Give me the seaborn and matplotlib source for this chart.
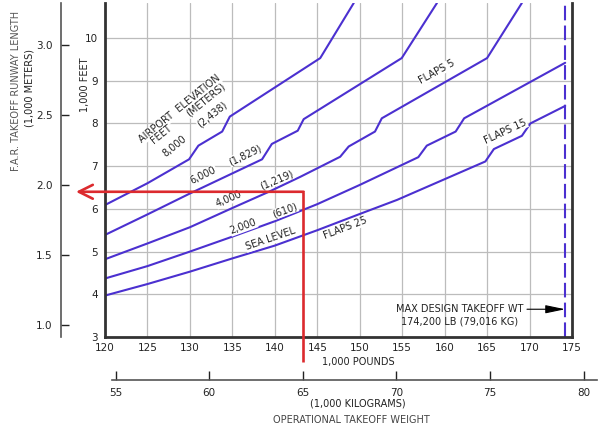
import numpy as np
import pandas as pd
import matplotlib
matplotlib.use("Agg")
import matplotlib.pyplot as plt
import seaborn as sns

# ---------------- data (weight in 1,000 lb, runway length in 1,000 ft) ----------------
sl_weight = [120, 125, 130, 135, 140, 145, 150, 154.4, 164.8, 165.8, 169.1, 170.1, 174.2]
sl_length = [3.97, 4.24, 4.53, 4.84, 5.14, 5.50, 5.88, 6.21, 7.11, 7.40, 7.71, 8.00, 8.41]
e2000_weight = [120, 125, 130, 135, 140, 145, 150, 156.9, 157.9, 161.3, 162.3, 174.2]
e2000_length = [4.37, 4.66, 5.00, 5.35, 5.71, 6.11, 6.56, 7.21, 7.48, 7.81, 8.12, 9.42]
e4000_weight = [120, 125, 130, 135, 139.3, 143, 147.7, 148.7, 151.8, 152.6, 165.0, 169.1]
e4000_length = [4.82, 5.19, 5.57, 6.02, 6.40, 6.75, 7.22, 7.46, 7.81, 8.12, 9.53, 10.82]
e6000_weight = [120, 125, 130, 138.5, 139.65, 142.7, 143.4, 154.95, 159.1]
e6000_length = [5.39, 5.87, 6.36, 7.16, 7.52, 7.83, 8.10, 9.53, 10.82]
e8000_weight = [120, 125, 129.9, 131.0, 133.8, 134.7, 145.35, 149.3]
e8000_length = [6.09, 6.60, 7.16, 7.48, 7.81, 8.16, 9.53, 10.82]

weight_ticks = [120, 125, 130, 135, 140, 145, 150, 155, 160, 165, 170, 175]
length_ticks = [3, 4, 5, 6, 7, 8, 9, 10]
meter_ticks = [1.0, 1.5, 2.0, 2.5, 3.0]
meter_labels = ["1.0", "1.5", "2.0", "2.5", "3.0"]
kg_ticks = [55, 60, 65, 70, 75, 80]

max_design_weight = 174.2
example_weight = 143.3     # 65,000 kg
example_length = 6.40      # ~1.95 km

FT_TO_M = 0.3048
LB_TO_KG = 0.45359

# ---------------- style ----------------
sns.set_theme(style="white")
plt.rcParams["font.family"] = ["DejaVu Sans"]
CURVE = "#4b30d0"
RED = "#dc2a2e"
TXT = "#222222"

fig = plt.figure(figsize=(6.0, 4.33), dpi=100)
ax = fig.add_axes([0.175, 0.2217, 0.7783, 0.7714])

frames = []
for name, w, l in [("SL", sl_weight, sl_length), ("2000", e2000_weight, e2000_length),
                   ("4000", e4000_weight, e4000_length), ("6000", e6000_weight, e6000_length),
                   ("8000", e8000_weight, e8000_length)]:
    frames.append(pd.DataFrame({"weight": w, "length": l, "curve": name}))
df = pd.concat(frames, ignore_index=True)

sns.lineplot(data=df, x="weight", y="length", units="curve", estimator=None, sort=False,
             color=CURVE, lw=1.5, ax=ax, legend=False, zorder=3)

ax.set_xlim(120, 175)
ax.set_ylim(3, 10.82)
ax.set_xticks(weight_ticks)
ax.set_yticks(length_ticks)
ax.set_xlabel("")
ax.set_ylabel("")
ax.grid(True, color="#bcbcbc", lw=0.9, zorder=0)
ax.tick_params(axis="both", length=0, labelsize=7.5, colors=TXT)
ax.tick_params(axis="x", pad=4)
ax.tick_params(axis="y", pad=5)
for s in ["left", "bottom", "right"]:
    ax.spines[s].set_visible(True)
    ax.spines[s].set_color("#333333")
    ax.spines[s].set_linewidth(2.0)
    ax.spines[s].set_zorder(5)
ax.spines["top"].set_visible(False)

# max design takeoff weight line
ax.axvline(max_design_weight, color=CURVE, lw=1.5, linestyle=(0, (7, 2.5)), zorder=4)
ax.annotate("", xy=(max_design_weight, 3.65), xytext=(169.7, 3.65),
            arrowprops=dict(arrowstyle="-|>,head_length=1.2,head_width=0.25",
                            color="black", lw=0.8, mutation_scale=10, shrinkA=0, shrinkB=0))
ax.text(161.75, 3.65, "MAX DESIGN TAKEOFF WT", ha="center", va="center", fontsize=7, color=TXT)
ax.text(161.75, 3.36, "174,200 LB (79,016 KG)", ha="center", va="center", fontsize=7, color=TXT)

# curve labels
lab = dict(fontsize=7, color=TXT, ha="center", va="center", rotation_mode="anchor", zorder=6)
bb = dict(fc="white", ec="none", pad=0.3)
for txt, x, y, r in [("AIRPORT  ELEVATION", 128.84, 8.34, 39),
                     ("FEET", 126.6, 7.75, 39),
                     ("(METERS)", 131.9, 8.55, 39),
                     ("8,000", 128.15, 7.46, 39),
                     ("(2,438)", 132.6, 8.22, 39),
                     ("6,000", 131.6, 6.79, 26),
                     ("(1,829)", 136.5, 7.26, 26),
                     ("4,000", 134.6, 6.23, 23),
                     ("(1,219)", 140.25, 6.68, 23),
                     ("2,000", 136.3, 5.58, 20),
                     ("(610)", 141.2, 5.96, 20),
                     ("SEA LEVEL", 139.5, 5.29, 19),
                     ("FLAPS 25", 148.3, 5.55, 21),
                     ("FLAPS 15", 167.2, 7.81, 25),
                     ("FLAPS 5", 159.1, 9.21, 29)]:
    ax.text(x, y, txt, rotation=r, bbox=bb, **lab)

# red example reading
ax.plot([example_weight, example_weight], [example_length, 2.41], color=RED, lw=1.9,
        clip_on=False, zorder=7, solid_capstyle="butt")
ax.annotate("", xy=(116.58, example_length), xytext=(example_weight + 0.1, example_length),
            annotation_clip=False,
            arrowprops=dict(arrowstyle="->,head_length=1.0,head_width=0.5", color=RED, lw=1.9,
                            mutation_scale=10, shrinkA=0, shrinkB=0), zorder=7)

# meters axis
sec = ax.secondary_yaxis(-0.0942, functions=(lambda f: f * FT_TO_M, lambda m: m / FT_TO_M))
sec.set_yticks(meter_ticks)
sec.set_yticklabels(meter_labels)
sec.tick_params(axis="y", left=True, direction="in", length=6, width=1.0, pad=6,
                labelsize=7.5, colors=TXT)
for s in sec.spines.values():
    s.set_color("#555555")
    s.set_linewidth(1.2)

# kilogram axis
pos = ax.get_position()
lo_klb, hi_klb = 120.8, 177.9
x0 = pos.x0 + (lo_klb - 120) / 55 * pos.width
x1 = pos.x0 + (hi_klb - 120) / 55 * pos.width
yk = pos.y0 - 0.1287 * pos.height
axk = fig.add_axes([x0, yk, x1 - x0, 0.0001])
axk.patch.set_visible(False)
axk.set_xlim(lo_klb * LB_TO_KG, hi_klb * LB_TO_KG)
axk.set_xticks(kg_ticks)
axk.set_yticks([])
for s in ["left", "right", "top"]:
    axk.spines[s].set_visible(False)
axk.spines["bottom"].set_color("#555555")
axk.spines["bottom"].set_linewidth(1.2)
axk.tick_params(axis="x", bottom=True, direction="in", length=6.5, width=1.0, pad=5.5,
                labelsize=7.5, colors=TXT)

# axis titles
fig.text(0.597, 0.164, "1,000 POUNDS", ha="center", va="center", fontsize=7, color=TXT)
fig.text(0.597, 0.067, "(1,000 KILOGRAMS)", ha="center", va="center", fontsize=7, color=TXT)
fig.text(0.585, 0.029, "OPERATIONAL TAKEOFF WEIGHT", ha="center", va="center", fontsize=7, color="#444444")
fig.text(0.027, 0.79, "F.A.R. TAKEOFF RUNWAY LENGTH", ha="center", va="center", rotation=90,
         fontsize=7, color="#555555")
fig.text(0.05, 0.797, "(1,000 METERS)", ha="center", va="center", rotation=90, fontsize=7, color=TXT)
fig.text(0.1417, 0.804, "1,000 FEET", ha="center", va="center", rotation=90, fontsize=7, color=TXT)

fig.savefig("out.png", dpi=100, facecolor="white")
